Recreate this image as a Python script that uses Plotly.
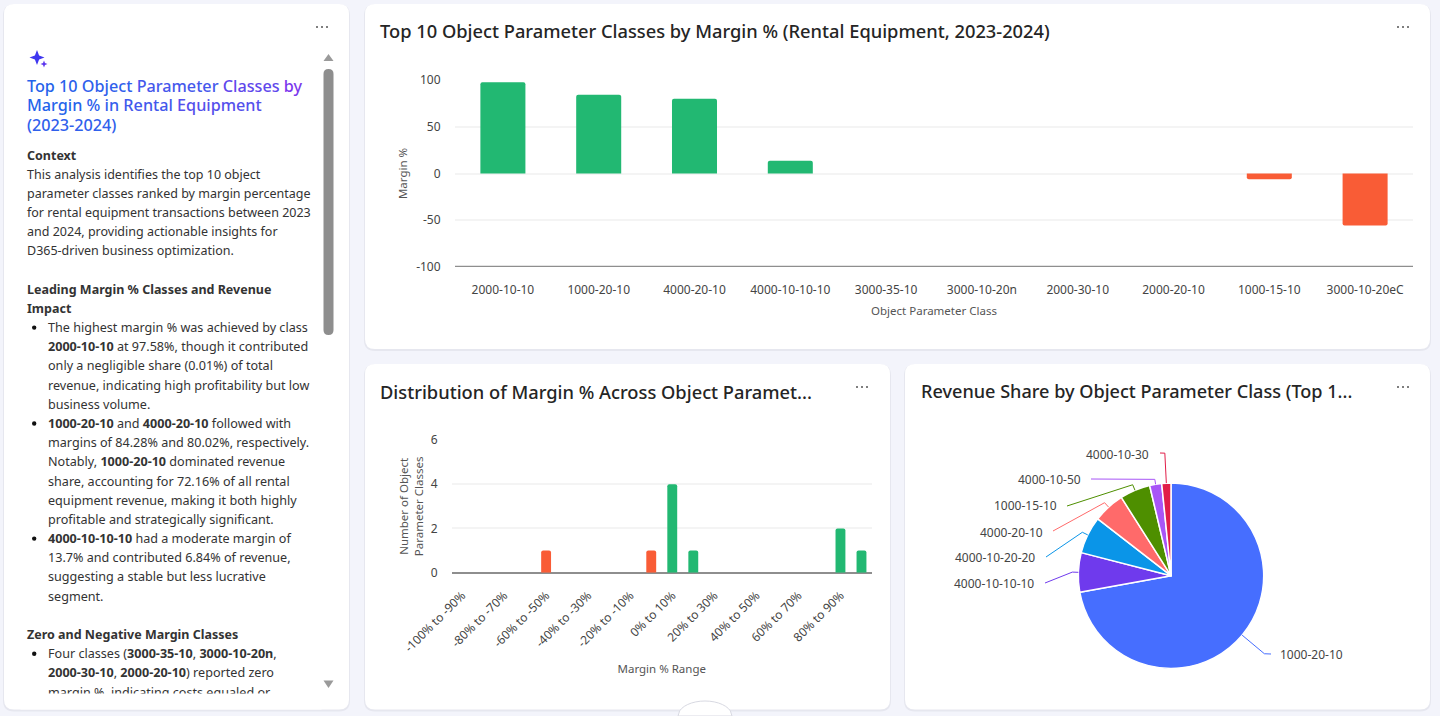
import math
import plotly.graph_objects as go

# ---------- data ----------
top_classes = ["2000-10-10", "1000-20-10", "4000-20-10", "4000-10-10-10", "3000-35-10",
               "3000-10-20n", "2000-30-10", "2000-20-10", "1000-15-10", "3000-10-20eC"]
top_margins = [97.58, 84.28, 80.02, 13.7, 0, 0, 0, 0, -6.2, -55.6]

bins = ["-100% to -90%", "-90% to -80%", "-80% to -70%", "-70% to -60%", "-60% to -50%",
        "-50% to -40%", "-40% to -30%", "-30% to -20%", "-20% to -10%", "-10% to 0%",
        "0% to 10%", "10% to 20%", "20% to 30%", "30% to 40%", "40% to 50%",
        "50% to 60%", "60% to 70%", "70% to 80%", "80% to 90%", "90% to 100%"]
bin_counts = [0, 0, 0, 0, 1, 0, 0, 0, 0, 1, 4, 1, 0, 0, 0, 0, 0, 0, 2, 1]
bin_colors = ["#F95C36"] * 10 + ["#22B872"] * 10

pie_labels = ["1000-20-10", "4000-10-10-10", "4000-10-20-20", "4000-20-10",
              "1000-15-10", "4000-10-50", "4000-10-30"]
pie_values = [72.16, 6.84, 6.5, 5.5, 5.3, 2.1, 1.6]
pie_colors = ["#466EFF", "#6F3AED", "#0A95E8", "#FF6A6A", "#4E8F00", "#A855F7", "#E11D48"]

panel_title = [
    [("Top", "#2563EB"), ("10", "#2A62EC"), ("Object", "#3060EC"), ("Parameter", "#4558EC"),
     ("Classes", "#6048EC"), ("by", "#7C3AED")],
    [("Margin", "#2563EB"), ("%", "#2D60EC"), ("in", "#345EEC"), ("Rental", "#4258EC"), ("Equipment", "#5550EC")],
    [("(2023-2024)", "#2F60EC")],
]
panel_lines = [
    ("h", "<b>Context</b>"),
    ("h", "This analysis identifies the top 10 object"),
    ("h", "parameter classes ranked by margin percentage"),
    ("h", "for rental equipment transactions between 2023"),
    ("h", "and 2024, providing actionable insights for"),
    ("h", "D365-driven business optimization."),
    ("", ""),
    ("h", "<b>Leading Margin % Classes and Revenue</b>"),
    ("h", "<b>Impact</b>"),
    ("b", "The highest margin % was achieved by class"),
    ("i", "<b>2000-10-10</b> at 97.58%, though it contributed"),
    ("i", "only a negligible share (0.01%) of total"),
    ("i", "revenue, indicating high profitability but low"),
    ("i", "business volume."),
    ("b", "<b>1000-20-10</b> and <b>4000-20-10</b> followed with"),
    ("i", "margins of 84.28% and 80.02%, respectively."),
    ("i", "Notably, <b>1000-20-10</b> dominated revenue"),
    ("i", "share, accounting for 72.16% of all rental"),
    ("i", "equipment revenue, making it both highly"),
    ("i", "profitable and strategically significant."),
    ("b", "<b>4000-10-10-10</b> had a moderate margin of"),
    ("i", "13.7% and contributed 6.84% of revenue,"),
    ("i", "suggesting a stable but less lucrative"),
    ("i", "segment."),
    ("", ""),
    ("h", "<b>Zero and Negative Margin Classes</b>"),
    ("b", "Four classes (<b>3000-35-10</b>, <b>3000-10-20n</b>,"),
    ("i", "<b>2000-30-10</b>, <b>2000-20-10</b>) reported zero"),
    ("i", "margin %, indicating costs equaled or"),
]

# ---------- layout helpers ----------
W, H = 1440, 716
FONT = "Noto Sans, Open Sans, sans-serif"
px = lambda x: x / W
py = lambda y: 1 - y / H
shapes, annots = [], []


def rrect(x0, y0, x1, y1, r, fill, line=None):
    d = (f"M {px(x0+r)} {py(y0)} L {px(x1-r)} {py(y0)} Q {px(x1)} {py(y0)} {px(x1)} {py(y0+r)} "
         f"L {px(x1)} {py(y1-r)} Q {px(x1)} {py(y1)} {px(x1-r)} {py(y1)} "
         f"L {px(x0+r)} {py(y1)} Q {px(x0)} {py(y1)} {px(x0)} {py(y1-r)} "
         f"L {px(x0)} {py(y0+r)} Q {px(x0)} {py(y0)} {px(x0+r)} {py(y0)} Z")
    shapes.append(dict(type="path", xref="paper", yref="paper", path=d, fillcolor=fill,
                       line=dict(width=0 if line is None else 1, color=line or fill), layer="below"))


def poly(pts, fill=None, color=None, width=1.0, layer="above"):
    d = "M " + " L ".join(f"{px(x)} {py(y)}" for x, y in pts) + (" Z" if fill else "")
    shapes.append(dict(type="path", xref="paper", yref="paper", path=d, fillcolor=fill or "rgba(0,0,0,0)",
                       line=dict(width=width if color else 0, color=color or "rgba(0,0,0,0)"), layer=layer))


def text(x, y, s, size=12, color="#444444", anchor="left", weight=None, **kw):
    f = dict(family=FONT, size=size, color=color)
    if weight:
        f["weight"] = weight
    annots.append(dict(xref="paper", yref="paper", x=px(x), y=py(y), text=s, showarrow=False,
                       xanchor=anchor, yanchor="middle", font=f, borderpad=0, borderwidth=0, **kw))


def dots(cx, cy):
    for dx in (-5, 0, 5):
        shapes.append(dict(type="circle", xref="paper", yref="paper", x0=px(cx+dx-1), x1=px(cx+dx+1),
                           y0=py(cy+1), y1=py(cy-1), fillcolor="#555555", line=dict(width=0)))


# cards
cards = [(4, 4, 349, 709.5), (365, 4, 1430, 349), (365, 364, 890, 709.5), (905, 364, 1430, 709.5)]
for c in cards:
    rrect(c[0]-1, c[1]+0.5, c[2]+1, c[3]+2, 11, "#E6E7EF")
    rrect(*c, 10, "#FFFFFF")
for cx, cy in [(322, 27), (1403, 27), (862, 387), (1403, 387)]:
    dots(cx, cy)

# card titles
text(380, 30, "Top 10 Object Parameter Classes by Margin % (Rental Equipment, 2023-2024)", 18.3, "#252525", weight=500)
text(380, 391, "Distribution of Margin % Across Object Paramet...", 18.3, "#252525", weight=500)
text(920.5, 391, "Revenue Share by Object Parameter Class (Top 1...", 18.1, "#252525", weight=500)

# left panel
for i, row in enumerate(panel_title):
    s = " ".join(f'<span style="color:{c}">{w}</span>' for w, c in row)
    text(27, 86 + 19.5 * i, s, 16.2, "#3560EE", weight=500)
for i, (kind, s) in enumerate(panel_lines):
    if not kind:
        continue
    y = 155 + 19.18 * i
    x = 27 if kind == "h" else 48
    text(x, y, s, 12.5 if kind == "h" else 12.6, "#333333")
    if kind == "b":
        shapes.append(dict(type="circle", xref="paper", yref="paper", x0=px(32), x1=px(36.4),
                           y0=py(y+2.2), y1=py(y-2.2), fillcolor="#111111", line=dict(width=0)))
# clip the scrolled-away line
annots.append(dict(xref="paper", yref="paper", x=px(20), y=py(693), xanchor="left", yanchor="top",
                   text="&nbsp;", showarrow=False, width=300, height=15, bgcolor="#FFFFFF", borderpad=0))

# scrollbar
rrect(323.5, 69, 333.5, 335, 5, "#8E8E8E")
shapes[-1]["layer"] = "above"
poly([(328.5, 54), (323.5, 61), (333.5, 61)], fill="#9A9A9A")
poly([(328.5, 688), (323.5, 680.5), (333.5, 680.5)], fill="#9A9A9A")

# sparkle icon
def star(cx, cy, r, color):
    k = r * 0.28
    poly([(cx, cy-r), (cx+k, cy-k), (cx+r, cy), (cx+k, cy+k), (cx, cy+r), (cx-k, cy+k), (cx-r, cy), (cx-k, cy-k)], fill=color)
star(37, 57.5, 7.5, "#3F37F0")
star(44, 64, 3.5, "#5B35EE")

# page-bottom round handle
arc = [(678, 716)]
for a in range(160, 19, -10):
    arc.append((705 + 27 * math.cos(math.radians(a)), 716 - 15 * math.sin(math.radians(a))))
arc.append((732, 716))
poly(arc, fill="#FFFFFF", color="#D8D9E2", width=1)

# ---------- pie leaders ----------
R = 92.7
CX, CY = 1171, 575.7
elbow_extra = [29, 6, 6, 6, 6, 5, 30]
elbow_tail = [(1271, 654), (1045, 583), (1046, 557), (1053, 531), (1067, 506), (1091, 479), (1160, 453)]
label_xy = [(1280, 654), (1034, 583), (1035, 557), (1043, 532), (1057, 506), (1081, 480), (1149, 454)]
cum = 0
total = sum(pie_values)
for lab, v, col, e, tail, xy in zip(pie_labels, pie_values, pie_colors, elbow_extra, elbow_tail, label_xy):
    a = math.radians((cum + v / 2) / total * 360)
    cum += v
    p0 = (CX + R * math.sin(a), CY - R * math.cos(a))
    p1 = (CX + (R + e) * math.sin(a), CY - (R + e) * math.cos(a))
    poly([p0, p1, tail], color=col, width=1)
    text(xy[0], xy[1], lab, 12, "#444444", anchor="left" if xy[0] > CX else "right")

# ---------- figure ----------
fig = go.Figure()
fig.add_trace(go.Bar(x=top_classes, y=top_margins, xaxis="x", yaxis="y", showlegend=False,
                     marker=dict(color=["#22B872" if v >= 0 else "#F95C36" for v in top_margins],
                                 line=dict(width=0), cornerradius=2)))
fig.add_trace(go.Bar(x=bins, y=bin_counts, xaxis="x2", yaxis="y2", showlegend=False,
                     marker=dict(color=bin_colors, line=dict(width=0), cornerradius=2)))
fig.add_trace(go.Pie(labels=pie_labels, values=pie_values, sort=False, direction="clockwise", rotation=0,
                     textinfo="none", showlegend=False,
                     marker=dict(colors=pie_colors, line=dict(color="#FFFFFF", width=1.5)),
                     domain=dict(x=[px(CX-R), px(CX+R)], y=[py(CY+R), py(CY-R)])))

tickf = dict(family=FONT, size=12, color="#444444")
axf = dict(family=FONT, size=11.5, color="#555555")
fig.update_layout(
    width=W, height=H, margin=dict(l=0, r=0, t=0, b=0, autoexpand=False), autosize=False,
    paper_bgcolor="#F3F4FB", plot_bgcolor="rgba(0,0,0,0)", font=dict(family=FONT),
    bargap=0.53, shapes=shapes, annotations=annots,
    xaxis=dict(domain=[px(455), px(1413)], anchor="y", type="category", categoryorder="array", categoryarray=top_classes,
               showgrid=False, zeroline=False, showline=False, ticks="outside", ticklen=12,
               tickcolor="rgba(0,0,0,0)", tickfont=tickf,
               title=dict(text="Object Parameter Class", font=axf, standoff=9)),
    yaxis=dict(domain=[py(267), py(80)], anchor="x", range=[-100, 100], tickvals=[-100, -50, 0, 50, 100],
               ticktext=["-100", "-50", "0", "50", "100"],
               gridcolor="#F4F4F4", gridwidth=1.5, zeroline=True, zerolinecolor="#F4F4F4", zerolinewidth=1.5,
               showline=False, ticks="outside", ticklen=11, tickcolor="rgba(0,0,0,0)", tickfont=tickf,
               title=dict(text="Margin %", font=axf, standoff=6)),
    xaxis2=dict(domain=[px(451.5), px(872)], anchor="y2", type="category", categoryorder="array", categoryarray=bins,
                tickvals=bins[::2], ticktext=bins[::2], tickangle=-45,
                showgrid=False, zeroline=False, showline=False, ticks="outside", ticklen=10,
                tickcolor="rgba(0,0,0,0)", tickfont=tickf,
                title=dict(text="Margin % Range", font=axf, standoff=10)),
    yaxis2=dict(domain=[py(572.7), py(440)], anchor="x2", range=[0, 6], tickvals=[0, 2, 4, 6],
                gridcolor="#F4F4F4", gridwidth=1.5, zeroline=True, zerolinecolor="#8E8E8E", zerolinewidth=2,
                showline=False, ticks="outside", ticklen=10.5, tickcolor="rgba(0,0,0,0)", tickfont=tickf,
                title=dict(text="Number of Object<br>Parameter Classes", font=axf, standoff=4)),
)
# heavy baseline of the top chart, tied to its axis minimum
fig.add_shape(type="line", xref="x domain", yref="y", x0=0, x1=1, y0=-100, y1=-100,
              line=dict(color="#8E8E8E", width=2.5))
fig.write_html("out.html", config=dict(displayModeBar=False),
               post_script="document.body.style.margin='0';document.documentElement.style.overflow='hidden';")
